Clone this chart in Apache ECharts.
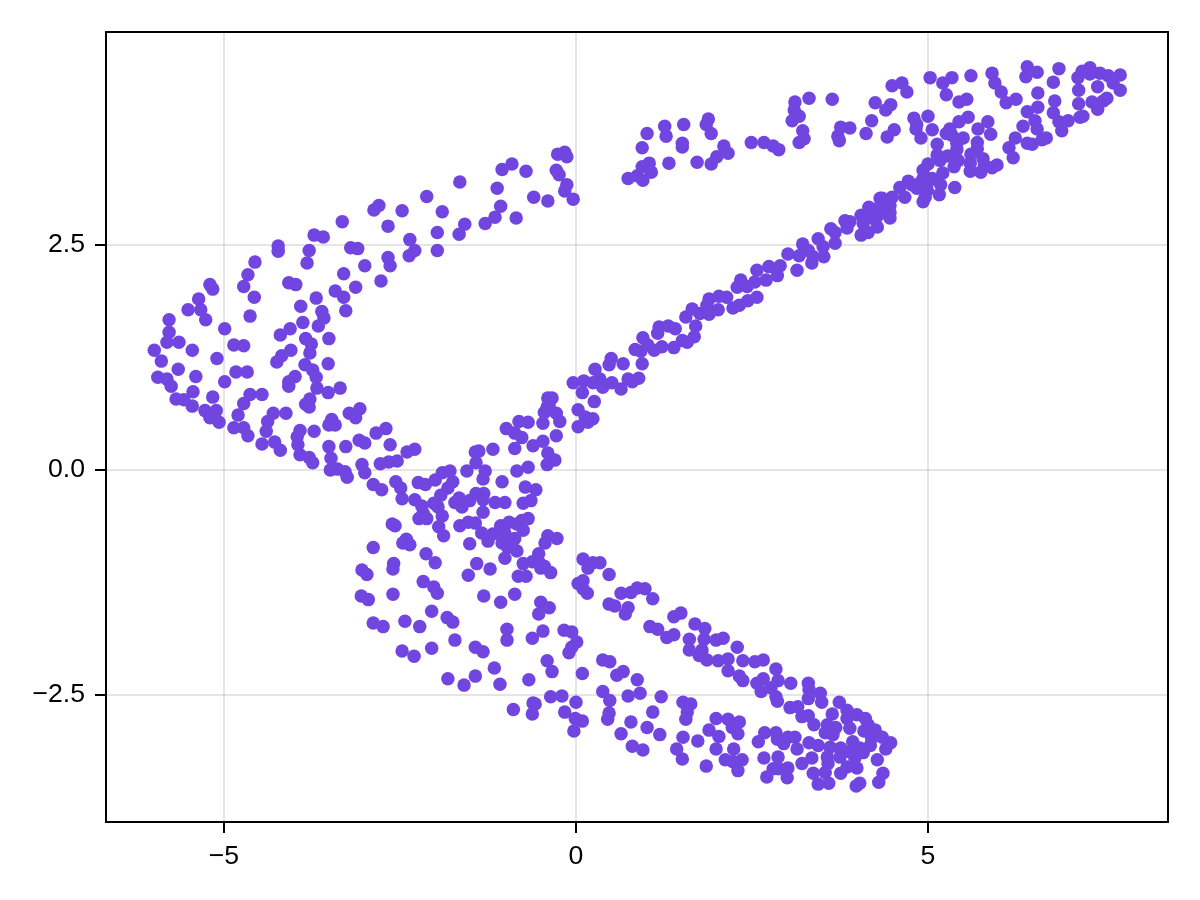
<!DOCTYPE html>
<html>
<head>
<meta charset="utf-8">
<style>html,body{margin:0;padding:0;background:#fff}#main{width:1200px;height:900px}</style>
<script src="https://cdn.jsdelivr.net/npm/echarts@6/dist/echarts.min.js"></script>
</head>
<body>
<div id="main"></div>
<script>
// [x, y]
var leftArc = [
[-2.12,3.04],[-2.80,2.94],[-2.87,2.89],[-2.47,2.88],[-3.32,2.76],[-2.67,2.71],[-3.72,2.61],[-3.59,2.59],[-2.36,2.56],[-4.23,2.49],
[-4.23,2.43],[-3.79,2.44],[-3.20,2.47],[-3.10,2.46],[-2.29,2.44],[-2.37,2.38],[-2.67,2.36],[-2.64,2.27],[-3.82,2.30],[-4.56,2.31],
[-3.00,2.27],[-4.66,2.17],[-3.30,2.18],[-5.20,2.06],[-5.16,2.01],[-4.72,2.04],[-2.77,2.10],[-4.08,2.08],[-3.98,2.06],[-3.13,2.03],
[-3.42,1.99],[-3.30,1.92],[-3.69,1.91],[-4.57,1.92],[-5.36,1.90],[-3.91,1.82],[-5.51,1.78],[-5.33,1.78],[-3.61,1.76],[-3.27,1.77],
[-4.63,1.71],[-3.58,1.69],[-5.26,1.67],[-5.78,1.67],[-3.88,1.64],[-3.66,1.60],[-4.06,1.57],[-4.99,1.57],[-5.78,1.53],[-4.20,1.50],
[-3.51,1.46],[-3.84,1.46],[-5.81,1.42],[-5.64,1.42],[-3.76,1.40],[-4.86,1.39],[-4.72,1.38],[-5.45,1.33],[-5.99,1.33],[-4.05,1.33],
[-3.78,1.30],[-4.18,1.27],[-5.10,1.24],[-4.25,1.20],[-5.89,1.21],[-3.85,1.17],[-3.52,1.18],[-3.74,1.11],[-5.65,1.12],[-4.83,1.09],
[-4.67,1.09],[-5.40,1.04],[-5.94,1.03],[-5.81,1.01],[-3.99,1.04],[-3.69,1.03],[-4.08,0.98],[-4.08,0.93],[-4.99,0.98],[-5.75,0.93],
[-3.35,0.91],[-3.68,0.91],[-3.52,0.86],[-5.44,0.87],[-5.68,0.79],[-5.57,0.78],[-5.45,0.71],[-5.16,0.81],[-4.63,0.84],[-4.46,0.84],
[-4.72,0.74],[-3.78,0.79],[-3.84,0.73],[-3.79,0.70],[-3.07,0.68],[-3.22,0.63],[-3.13,0.58],[-4.30,0.63],[-4.12,0.63],[-4.80,0.61],
[-5.27,0.66],[-5.11,0.66],[-5.20,0.58],[-5.07,0.53],[-4.38,0.54],[-3.47,0.56],[-3.51,0.50],[-3.42,0.50],[-4.86,0.47],[-4.72,0.47],
[-4.66,0.38],[-4.40,0.43],[-3.92,0.44],[-3.72,0.43],[-2.70,0.46],[-2.84,0.41],[-3.96,0.37],[-4.46,0.29],[-4.28,0.31],[-4.20,0.22],
[-3.95,0.28],[-3.51,0.26],[-3.27,0.26],[-3.08,0.33],[-3.00,0.30],[-2.64,0.28],[-2.29,0.23],[-2.40,0.20],[-3.92,0.17],[-3.79,0.14],
[-3.74,0.08],[-3.48,0.13],[-2.54,0.10],[-2.66,0.09],[-2.78,0.07],[-3.04,0.06],[-3.00,-0.03],[-3.49,0.00],[-3.39,0.01],[-3.28,-0.02],[-3.25,-0.08]
];
var centre = [
[-2.88,-0.16],[-2.76,-0.22],[-2.56,-0.13],[-2.49,-0.20],[-2.47,-0.32],[-2.24,-0.14],[-2.14,-0.16],[-2.00,-0.11],[-1.90,-0.03],[-1.79,-0.01],
[-1.75,-0.13],[-1.82,-0.20],[-1.92,-0.28],[-2.02,-0.37],[-1.96,-0.41],[-2.29,-0.33],[-2.19,-0.40],[-2.17,-0.48],[-2.23,-0.54],[-2.12,-0.54],
[-1.90,-0.51],[-1.95,-0.63],[-1.88,-0.73],[-1.65,-0.62],[-1.53,-0.58],[-1.43,-0.59],[-1.34,-0.70],[-1.25,-0.79],[-1.18,-0.71],[-1.51,-0.82],
[-1.07,-0.62],[-0.95,-0.58],[-0.84,-0.60],[-0.77,-0.56],[-0.68,-0.54],[-0.75,-0.67],[-1.01,-0.70],[-0.87,-0.76],[-1.05,-0.81],[-0.97,-0.86],
[-0.84,-0.90],[-1.01,-0.98],[-0.91,-0.81],[-1.41,-1.04],[-1.22,-1.10],[-1.53,-1.17],[-0.40,-0.73],[-0.27,-0.76],[-0.44,-0.81],[-0.53,-0.93],
[-0.75,-1.04],[-0.62,-1.02],[-0.53,-1.02],[-0.45,-1.07],[-0.50,-1.09],[-0.36,-1.14],[-0.82,-1.18],[-0.71,-1.18],[-1.55,-0.01],[-1.42,0.08],
[-1.29,-0.01],[-1.32,-0.10],[-1.05,-0.13],[-1.43,0.20],[-1.38,0.21],[-1.18,0.23],[-0.84,-0.01],[-0.68,0.03],[-0.72,-0.19],[-0.57,-0.22],
[-0.75,-0.37],[-0.64,-0.34],[-0.41,0.06],[-0.30,0.11],[-0.40,0.19],[-0.61,0.27],[-0.47,0.32],[-0.28,0.38],[-0.87,0.24],[-0.77,0.36],
[-0.87,0.41],[-0.99,0.46],[-0.81,0.54],[-0.68,0.53],[-0.47,0.52],[-0.23,0.54],[-0.45,0.64],[-0.37,0.67],[-0.28,0.63],[-0.38,0.74],
[0.03,0.67],[0.13,0.59],[0.24,0.57],[0.17,0.53],[0.03,0.48],[0.26,0.76],[-1.15,-0.36],[-1.01,-0.36],[-1.32,-0.47],[-1.31,-0.26],
[-1.42,-0.26],[-1.51,-0.34],[-1.72,-0.36],[-1.62,-0.41],[-1.66,-0.31],[-1.32,-0.33],[-0.40,0.80],[-0.34,0.80],[-0.41,0.70]
];
var lowerLeft = [
[-2.61,-0.60],[-2.57,-0.62],[-2.41,-0.77],[-2.46,-0.81],[-2.36,-0.83],[-2.88,-0.86],[-2.13,-0.93],[-2.00,-1.03],[-3.04,-1.11],[-2.97,-1.16],
[-2.59,-1.04],[-2.60,-1.10],[-2.17,-1.24],[-2.02,-1.30],[-1.97,-1.37],[-2.60,-1.38],[-3.05,-1.40],[-2.95,-1.44],[-2.05,-1.57],[-2.43,-1.68],
[-2.22,-1.74],[-2.88,-1.70],[-2.74,-1.74],[-1.83,-1.64],[-1.75,-1.69],[-1.72,-1.89],[-2.47,-2.01],[-2.30,-2.07],[-2.05,-1.98],[-1.43,-1.97],
[-1.32,-2.02],[-0.98,-1.77],[-0.98,-1.89],[-0.62,-1.87],[-0.47,-1.79],[-0.17,-1.78],[-0.06,-1.80],[0.01,-1.91],[-0.06,-1.97],[-0.10,-2.03],
[-0.41,-2.12],[-1.31,-1.40],[-1.07,-1.47],[-0.87,-1.38],[-0.50,-1.47],[-0.38,-1.53],[-0.53,-1.60],[-1.82,-2.32],[-1.59,-2.39],[-1.43,-2.29],
[-1.16,-2.20],[-1.08,-2.38],[-0.67,-2.33],[-0.34,-2.24],[-0.36,-2.52],[-0.89,-2.66],[-0.61,-2.59],[-0.58,-2.60],[-0.62,-2.71]
];
var topArc = [
[-1.65,3.20],[-1.90,2.87],[-1.97,2.64],[-1.97,2.44],[-1.58,2.73],[-1.66,2.62],[-1.29,2.74],[-1.15,2.81],[-1.07,2.93],[-0.85,2.80],
[-1.12,3.13],[-1.05,3.34],[-0.91,3.40],[-0.71,3.32],[-0.60,3.03],[-0.40,2.99],[-0.28,3.33],[-0.24,3.28],[-0.13,3.17],[-0.16,3.10],
[-0.04,3.01],[-0.26,3.51],[-0.16,3.53],[-0.13,3.48],[0.74,3.24],[0.87,3.27],[0.95,3.22],[0.94,3.37],[1.04,3.41],[1.07,3.31],
[0.94,3.58],[1.01,3.74],[1.26,3.82],[1.28,3.71],[1.32,3.41],[1.53,3.84],[1.51,3.63],[1.51,3.59],[1.88,3.90],[1.85,3.84],
[1.92,3.74],[1.72,3.42],[1.92,3.40],[2.00,3.48],[2.10,3.60],[2.16,3.52],[2.49,3.64],[2.67,3.64],[2.80,3.60],[2.88,3.56],
[3.11,4.09],[3.31,4.13],[3.64,4.12],[3.10,4.00],[3.17,3.93],[3.07,3.88],[3.22,3.77],[3.24,3.68],[3.17,3.64],[3.76,3.81],
[3.89,3.80],[3.72,3.71],[3.74,3.66],[4.20,3.88],[4.12,3.74],[4.25,4.08]
];
var diagonal = [
[-0.04,0.97],[0.11,0.99],[0.24,0.97],[0.09,0.86],[0.27,1.12],[0.34,1.01],[0.38,0.92],[0.51,0.97],[0.64,0.90],[0.47,1.17],
[0.50,1.24],[0.67,1.18],[0.74,1.01],[0.80,0.98],[0.89,1.02],[0.94,1.18],[0.84,1.34],[0.92,1.32],[0.95,1.47],[1.02,1.39],
[1.11,1.33],[1.22,1.37],[1.39,1.36],[1.16,1.52],[1.51,1.44],[1.58,1.42],[1.68,1.48],[1.86,1.83],[1.18,1.59],[1.31,1.60],
[1.41,1.57],[1.70,1.60],[1.56,1.70],[1.65,1.79],[1.76,1.74],[1.89,1.73],[2.02,1.78],[1.89,1.90],[2.03,1.93],[2.14,1.92],
[2.23,1.80],[2.32,1.83],[2.44,1.88],[2.57,1.92],[2.29,2.03],[2.34,2.11],[2.43,2.04],[2.54,2.09],[2.57,2.22],[2.70,2.11],
[2.86,2.16],[2.74,2.26],[2.90,2.27],[3.14,2.22],[3.01,2.40],[3.17,2.38],[3.35,2.30],[3.22,2.51],[3.30,2.44],[3.37,2.37],
[3.52,2.37],[3.44,2.57],[3.51,2.48],[3.68,2.52],[3.62,2.68],[3.68,2.64],[3.82,2.77],[3.89,2.76],[3.85,2.69],[4.05,2.61],
[4.15,2.64],[4.05,2.83],[4.16,2.92],[4.08,2.74],[4.28,2.70],[4.25,2.78],[4.32,3.02]
];
var upperRight = [
[4.49,4.27],[4.63,4.30],[4.70,4.20],[5.03,4.36],[5.34,4.36],[5.21,4.30],[5.26,4.17],[5.61,4.38],[5.91,4.41],[5.95,4.30],
[6.04,4.20],[6.25,4.12],[6.11,4.08],[5.55,4.12],[5.44,4.09],[4.47,4.06],[4.40,4.00],[4.52,3.78],[4.42,3.70],[4.80,3.91],
[4.84,3.84],[4.83,3.79],[4.90,3.69],[5.00,3.93],[5.06,3.78],[6.41,4.48],[6.39,4.37],[6.55,4.42],[6.86,4.46],[6.78,4.31],
[6.56,4.19],[6.80,4.10],[6.56,4.03],[6.41,3.98],[6.78,3.97],[6.52,3.88],[6.35,3.82],[6.55,3.79],[6.86,3.87],[6.99,3.88],
[6.90,3.77],[7.16,3.92],[7.20,3.93],[7.14,4.07],[7.14,4.22],[7.13,4.36],[7.19,4.43],[7.30,4.47],[7.30,4.40],[7.44,4.41],
[7.56,4.38],[7.73,4.39],[7.63,4.30],[7.73,4.22],[7.41,4.26],[7.33,4.09],[7.54,4.13],[7.49,4.10],[7.40,4.06],[7.41,4.01],
[5.57,3.92],[5.44,3.87],[5.31,3.79],[5.26,3.74],[5.34,3.72],[5.50,3.69],[5.85,3.87],[5.71,3.79],[5.89,3.73],[5.70,3.64],
[5.41,3.63],[5.13,3.62],[5.70,3.57],[5.41,3.56],[5.61,3.51],[5.28,3.49],[5.13,3.50],[5.43,3.44],[5.78,3.46],[5.17,3.44],
[5.00,3.40],[5.37,3.37],[5.60,3.41],[5.80,3.39],[5.98,3.39],[5.91,3.36],[5.60,3.32],[5.75,3.31],[5.21,3.30],[4.93,3.33],
[4.72,3.21],[5.06,3.24],[4.93,3.24],[5.18,3.17],[5.38,3.14],[5.00,3.20],[4.89,3.19],[4.77,3.17],[4.60,3.14],[4.99,3.11],
[4.84,3.13],[5.16,3.06],[4.67,3.03],[4.96,3.03],[4.93,2.98],[4.49,3.03],[4.35,3.02],[4.46,2.94],[4.29,2.91],[4.46,2.86],
[4.29,2.83],[4.18,2.83],[4.46,2.80],[6.24,3.69],[6.15,3.58],[6.21,3.47],[6.41,3.63],[6.48,3.62],[6.62,3.67],[6.68,3.69]
];
var lowerUpperBand = [
[0.10,-0.99],[0.24,-1.03],[0.17,-1.09],[0.34,-1.03],[0.47,-1.16],[0.10,-1.23],[0.03,-1.26],[0.10,-1.32],[0.16,-1.37],[0.64,-1.37],
[0.78,-1.36],[0.87,-1.31],[0.98,-1.32],[1.09,-1.43],[0.47,-1.49],[0.55,-1.51],[0.74,-1.53],[0.70,-1.60],[1.49,-1.59],[1.39,-1.63],
[1.05,-1.74],[1.16,-1.77],[1.29,-1.86],[1.39,-1.83],[1.69,-1.71],[1.83,-1.76],[1.82,-1.88],[1.61,-1.88],[1.99,-1.89],[2.09,-1.87],
[2.29,-1.97],[1.61,-2.00],[1.79,-2.00],[1.75,-2.06],[1.86,-2.11],[2.02,-2.12],[2.16,-2.10],[2.37,-2.12],[2.16,-2.23],[2.54,-2.13],
[2.66,-2.11],[2.84,-2.21],[2.32,-2.29],[2.37,-2.34],[2.57,-2.37],[2.66,-2.32],[2.87,-2.34],[3.05,-2.37],[2.63,-2.46],[2.77,-2.42],
[2.84,-2.52],[2.86,-2.57],[3.04,-2.64],[3.15,-2.63]
];
var lowerBand = [
[0.09,-2.26],[0.38,-2.11],[0.48,-2.13],[0.67,-2.24],[0.58,-2.28],[0.87,-2.33],[0.91,-2.48],[0.74,-2.51],[0.38,-2.46],[0.48,-2.56],
[1.21,-2.52],[-0.20,-2.51],[0.00,-2.58],[-0.16,-2.69],[-0.01,-2.76],[0.09,-2.79],[-0.03,-2.90],[0.47,-2.70],[0.45,-2.77],[1.09,-2.69],
[0.78,-2.80],[1.01,-2.86],[0.64,-2.93],[1.19,-2.94],[0.80,-3.07],[0.95,-3.11],[1.52,-2.58],[1.63,-2.60],[1.58,-2.69],[1.56,-2.77],
[1.52,-2.97],[1.73,-3.01],[1.43,-3.10],[1.51,-3.21],[1.85,-3.29],[1.99,-3.10],[1.89,-2.89],[2.03,-2.96],[1.99,-2.76],[2.16,-2.77],
[2.32,-2.80],[2.22,-2.86],[2.30,-2.93],[2.24,-3.10],[2.12,-3.22],[2.23,-3.24],[2.36,-3.22],[2.30,-3.34],[2.59,-3.02],[2.68,-2.92],
[2.84,-2.92],[2.86,-2.99],[2.95,-3.04],[3.01,-2.97],[3.11,-2.97],[3.14,-3.10],[2.67,-3.20],[2.87,-3.19],[2.80,-3.32],[2.88,-3.32],
[3.01,-3.31],[2.71,-3.41],[3.00,-3.42]
];
var tipCluster = [
[3.30,-2.37],[3.31,-2.44],[3.47,-2.48],[3.30,-2.54],[3.49,-2.58],[3.74,-2.58],[3.64,-2.71],[3.85,-2.67],[3.85,-2.76],[3.99,-2.72],
[4.11,-2.76],[4.15,-2.83],[4.25,-2.89],[4.35,-2.97],[4.47,-3.03],[4.40,-3.10],[3.21,-2.74],[3.30,-2.73],[3.38,-2.83],[3.57,-2.83],
[3.69,-2.86],[3.54,-2.92],[3.65,-2.94],[3.89,-2.87],[4.09,-2.90],[4.20,-2.98],[3.31,-3.03],[3.44,-3.06],[3.61,-3.08],[3.76,-3.09],
[3.93,-3.02],[4.03,-3.09],[4.18,-3.06],[3.89,-3.13],[3.75,-3.19],[3.57,-3.19],[3.35,-3.20],[3.21,-3.26],[3.58,-3.26],[3.96,-3.20],
[4.08,-3.14],[4.28,-3.22],[3.37,-3.37],[3.54,-3.36],[3.76,-3.37],[3.85,-3.30],[3.99,-3.31],[4.36,-3.37],[3.44,-3.49],[3.59,-3.48],
[4.03,-3.48],[3.98,-3.51],[4.30,-3.47]
];
var xTicks = [-5, 0, 5];
var yTicks = [-2.5, 0, 2.5];

var points = [].concat(leftArc, centre, lowerLeft, topArc, diagonal, upperRight, lowerUpperBand, lowerBand, tipCluster);

var font = '"Liberation Sans", Arial, sans-serif';

function minus(s) {
    return String(s).replace('-', '\u2212');
}

var myChart = echarts.init(document.getElementById('main'));

var option = {
    backgroundColor: '#fff',
    animation: false,
    grid: {
        left: 106,
        right: 32,
        top: 32,
        bottom: 78,
        show: true,
        borderColor: '#000',
        borderWidth: 2,
        containLabel: false
    },
    xAxis: {
        type: 'value',
        min: -6.676,
        max: 8.409,
        axisLine: {show: false, onZero: false},
        axisTick: {show: true, customValues: xTicks, length: 11, inside: false, lineStyle: {color: '#000', width: 2}},
        axisLabel: {
            customValues: xTicks,
            margin: 21,
            color: '#000',
            fontFamily: font,
            fontSize: 26.67,
            hideOverlap: false,
            formatter: function (v) { return minus(v); }
        },
        splitLine: {show: true, lineStyle: {color: 'rgba(0,0,0,0.1)', width: 2}}
    },
    yAxis: {
        type: 'value',
        min: -3.911,
        max: 4.867,
        axisLine: {show: false, onZero: false},
        axisTick: {show: true, customValues: yTicks, length: 11, inside: false, lineStyle: {color: '#000', width: 2}},
        axisLabel: {
            customValues: yTicks,
            margin: 21,
            color: '#000',
            fontFamily: font,
            fontSize: 26.67,
            hideOverlap: false,
            formatter: function (v) { return minus(Number(v).toFixed(1)); }
        },
        splitLine: {show: true, lineStyle: {color: 'rgba(0,0,0,0.1)', width: 2}}
    },
    series: [{
        type: 'scatter',
        data: points,
        symbol: 'circle',
        symbolSize: 13.5,
        itemStyle: {color: '#7145e0', opacity: 1},
        silent: true
    }]
};

myChart.setOption(option);
</script>
</body>
</html>
